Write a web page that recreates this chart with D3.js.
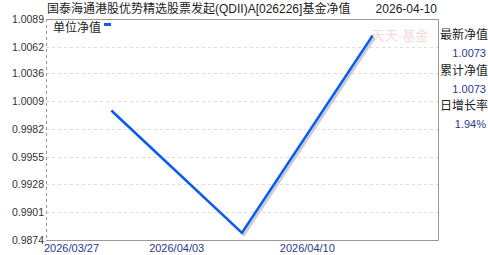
<!doctype html>
<html>
  <head>
    <meta charset="utf8">
    <script src="https://d3js.org/d3.v7.min.js"></script>
    <style type="text/css">
      body { margin: 0; background: #fff; }
      text { font-family: 'Liberation Sans', Arial, sans-serif; }
      .cn { font-family: 'Liberation Sans', 'Noto Sans CJK SC', sans-serif; }
    </style>
  </head>
  <body>
    <script type="text/javascript">
      const w = 488;
      const h = 255;
      const padL = 46, padR = 438, padT = 19, padB = 240;

      // weekly NAV
      const dates = ['2026/03/27', '2026/04/03', '2026/04/10'];
      const nav = [1.0000, 0.9881, 1.0073];
      const yTicks = ['1.0089', '1.0062', '1.0036', '1.0009', '0.9982', '0.9955', '0.9928', '0.9901', '0.9874'];
      const sideLabels = ['最新净值', '累计净值', '日增长率'];
      const sideValues = ['1.0073', '1.0073', '1.94%'];

      const x = d3.scaleBand().domain(dates).range([padL, padR]);
      const y = d3.scaleLinear()
        .domain([+yTicks[yTicks.length - 1], +yTicks[0]])
        .range([padB, padT]);

      const svg = d3.select('body').append('svg')
        .attr('width', w)
        .attr('height', h);

      // grid
      svg.selectAll('line.grid')
        .data(yTicks.slice(1, -1))
        .enter().append('line')
        .attr('class', 'grid')
        .attr('x1', padL).attr('x2', padR)
        .attr('y1', (d) => Math.round(y(+d)) + 0.5)
        .attr('y2', (d) => Math.round(y(+d)) + 0.5)
        .attr('stroke', '#ddd')
        .attr('stroke-dasharray', '3,3');

      // frame
      svg.append('path')
        .attr('d', `M${padL},${padT + 0.5}H${padR + 0.5}V${padB + 0.5}H${padL}`)
        .attr('fill', 'none')
        .attr('stroke', '#999');
      svg.append('line')
        .attr('x1', padL + 0.5).attr('x2', padL + 0.5)
        .attr('y1', padT).attr('y2', padB)
        .attr('stroke', '#999')
        .attr('stroke-dasharray', '3,3');

      // watermark
      svg.append('text')
        .attr('class', 'cn')
        .attr('x', 400).attr('y', 40)
        .attr('text-anchor', 'middle')
        .attr('font-size', 13)
        .attr('fill', '#fbd8d8')
        .text('天天·基金');

      // y labels
      svg.selectAll('text.ylab')
        .data(yTicks)
        .enter().append('text')
        .attr('class', 'ylab')
        .attr('x', padL - 2)
        .attr('y', (d) => y(+d) + 4)
        .attr('text-anchor', 'end')
        .attr('font-size', 10.5)
        .attr('fill', '#333')
        .text((d) => d);

      // x labels at band edges
      svg.selectAll('text.xlab')
        .data(dates)
        .enter().append('text')
        .attr('class', 'xlab')
        .attr('x', (d, i) => i === 0 ? padL - 2 : x(d))
        .attr('y', 252)
        .attr('text-anchor', (d, i) => i === 0 ? 'start' : 'middle')
        .attr('font-size', 11)
        .attr('fill', '#2b3a8c')
        .text((d) => d);

      const line = d3.line()
        .x((d, i) => x(dates[i]) + x.bandwidth() / 2)
        .y((d) => y(d));

      // shadow
      svg.append('path')
        .datum(nav)
        .attr('d', line)
        .attr('transform', 'translate(2,2)')
        .attr('fill', 'none')
        .attr('stroke', '#ccc')
        .attr('stroke-width', 2.5);

      svg.append('path')
        .datum(nav)
        .attr('d', line)
        .attr('fill', 'none')
        .attr('stroke', '#0a5cf5')
        .attr('stroke-width', 2.5);

      // title
      svg.append('text')
        .attr('class', 'cn')
        .attr('x', 47).attr('y', 13)
        .attr('font-size', 12)
        .attr('fill', '#222')
        .text('国泰海通港股优势精选股票发起(QDII)A[026226]基金净值');
      svg.append('text')
        .attr('class', 'cn')
        .attr('x', 437).attr('y', 13)
        .attr('text-anchor', 'end')
        .attr('font-size', 12)
        .attr('fill', '#222')
        .text('2026-04-10');

      // legend
      svg.append('text')
        .attr('class', 'cn')
        .attr('x', 53).attr('y', 32)
        .attr('font-size', 12)
        .attr('fill', '#222')
        .text('单位净值');
      svg.append('rect')
        .attr('x', 104).attr('y', 23)
        .attr('width', 7).attr('height', 3)
        .attr('fill', '#0a5cf5');

      // side panel
      svg.selectAll('text.slab')
        .data(sideLabels)
        .enter().append('text')
        .attr('class', 'cn slab')
        .attr('x', 440)
        .attr('y', (d, i) => 39 + i * 35.5)
        .attr('font-size', 12)
        .attr('fill', '#222')
        .text((d) => d);
      svg.selectAll('text.sval')
        .data(sideValues)
        .enter().append('text')
        .attr('class', 'sval')
        .attr('x', 486)
        .attr('y', (d, i) => 57 + i * 35.5)
        .attr('text-anchor', 'end')
        .attr('font-size', 11)
        .attr('fill', '#2b3a8c')
        .text((d) => d);
    </script>
  </body>
</html>
